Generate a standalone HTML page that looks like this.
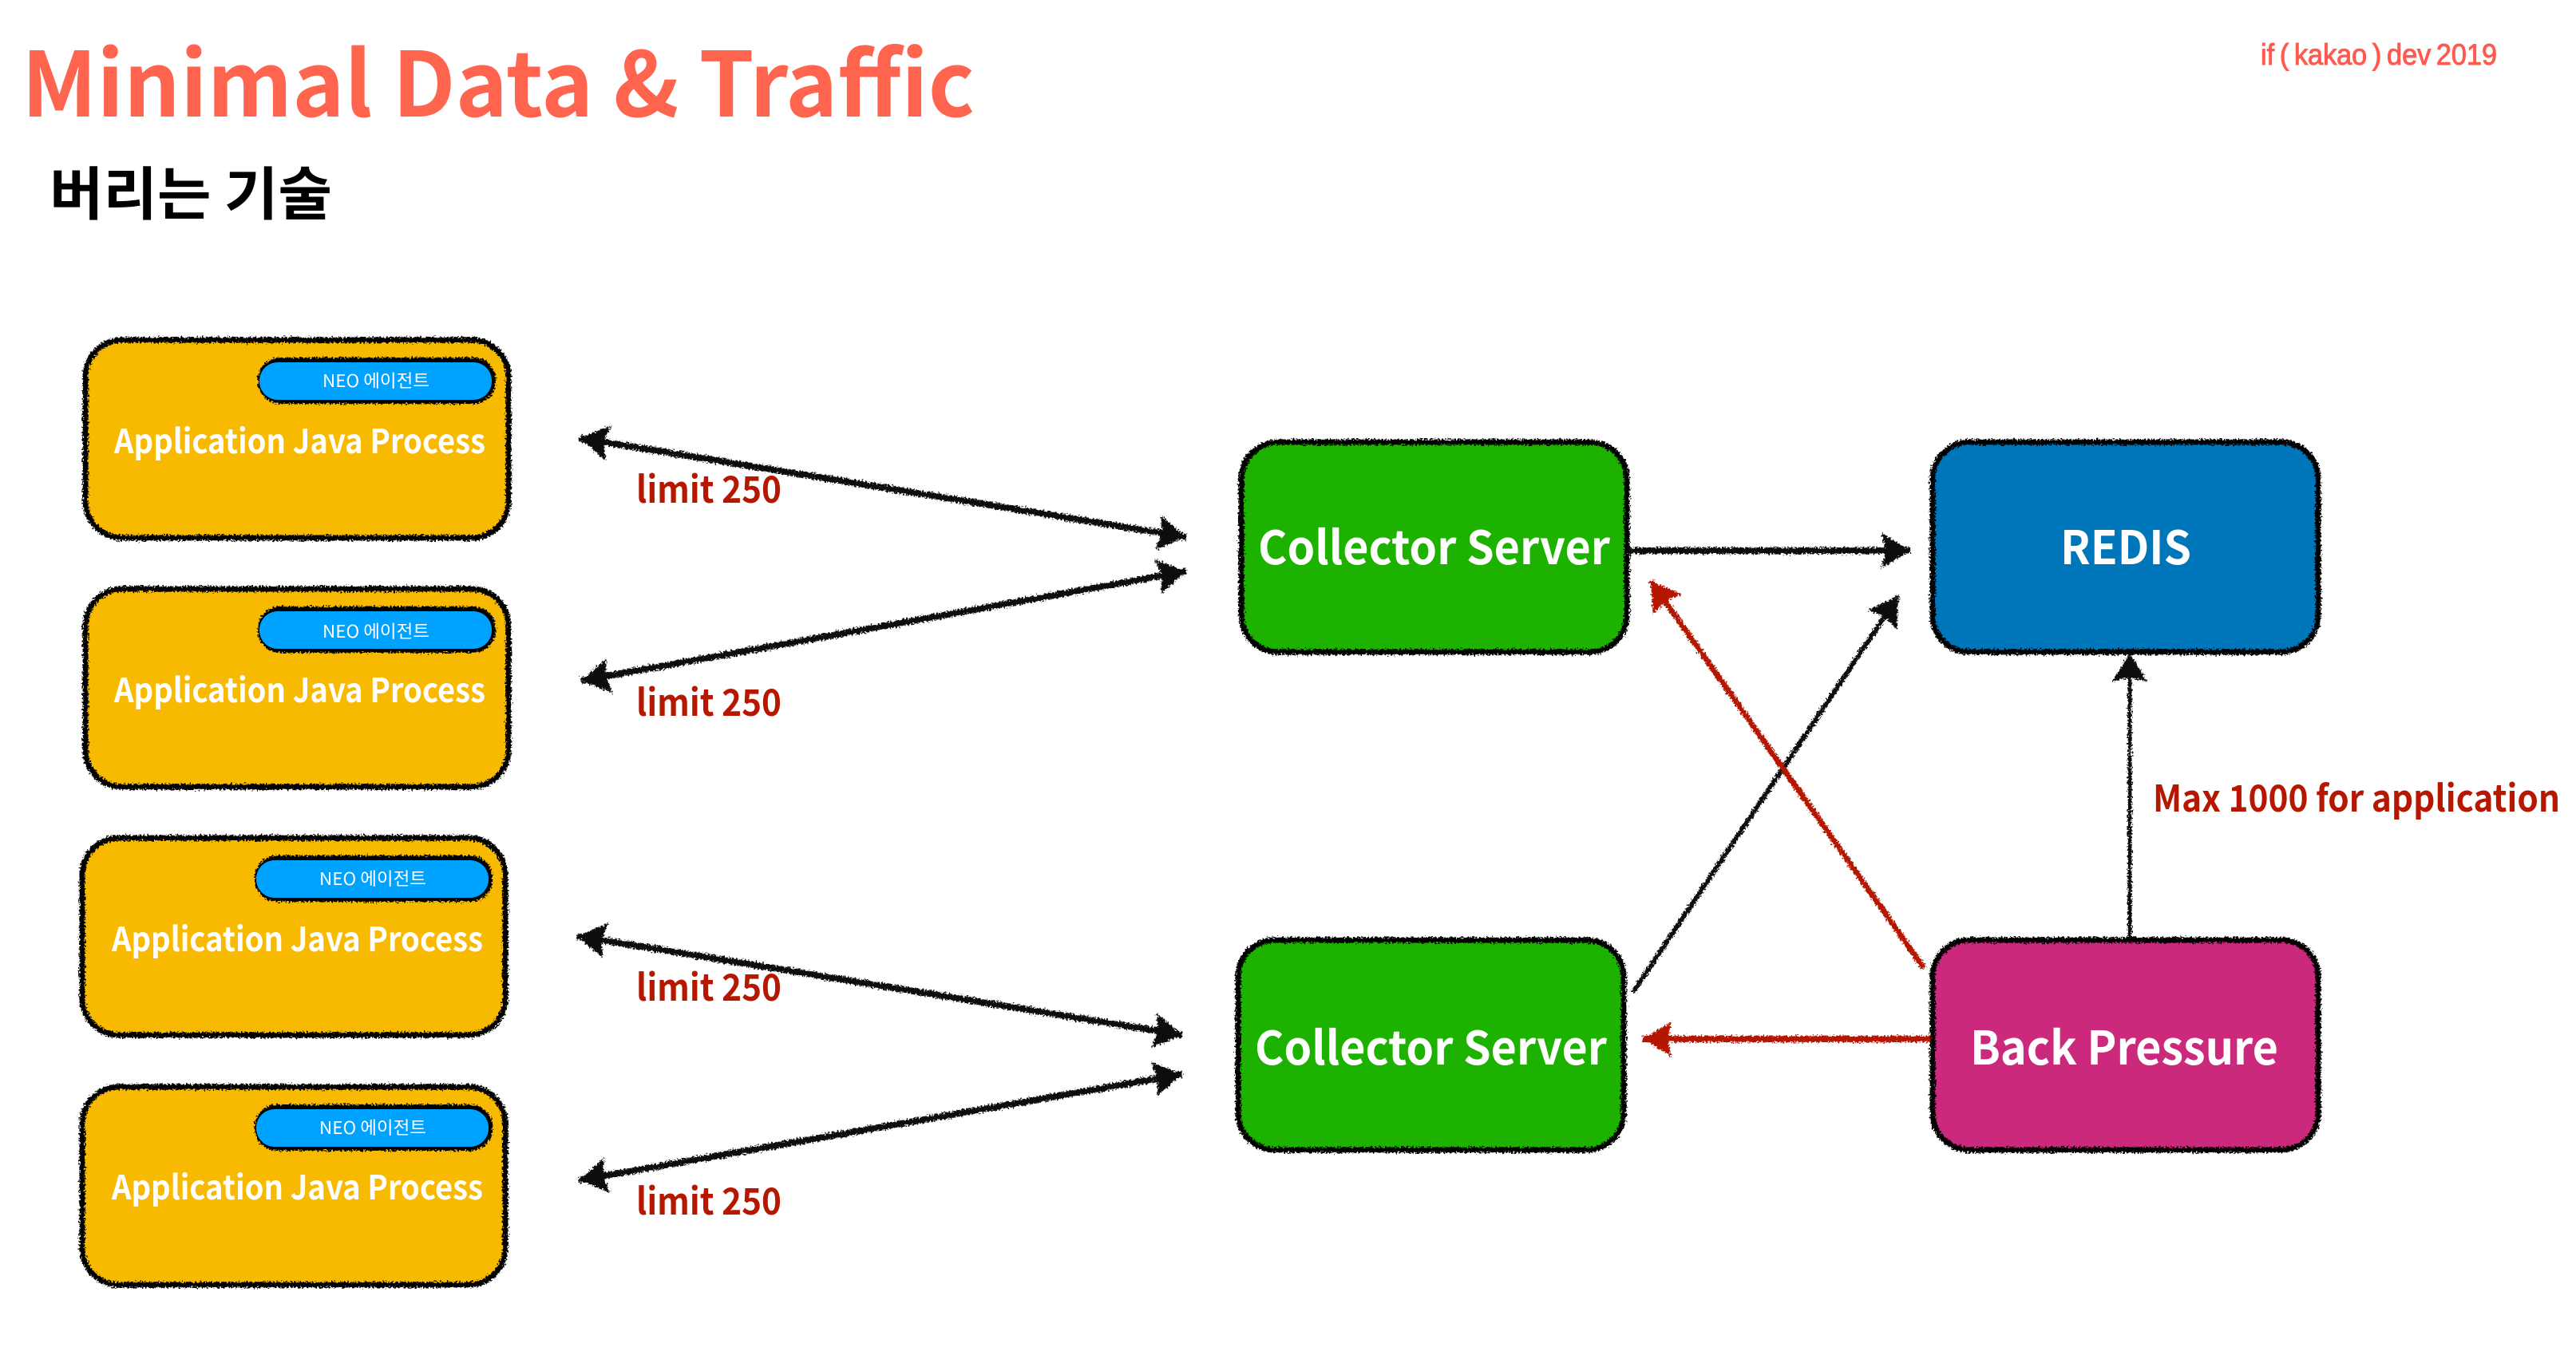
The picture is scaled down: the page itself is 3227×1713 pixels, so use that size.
<!DOCTYPE html>
<html><head><meta charset="utf-8"><style>
html,body{margin:0;padding:0;background:#fff;width:3227px;height:1713px;overflow:hidden}
svg{display:block}
text{font-family:"Liberation Sans","Noto Sans CJK KR",sans-serif}
.n{font-family:"Noto Sans CJK KR","Liberation Sans",sans-serif}
.w{fill:#fff;font-weight:700;font-family:"Noto Sans CJK KR","Liberation Sans",sans-serif}
.r{fill:#b51700;font-weight:700;font-size:46px;font-family:"Noto Sans CJK KR","Liberation Sans",sans-serif}
.neo{fill:#fff;font-size:22px;font-family:"Noto Sans CJK KR","Liberation Sans",sans-serif}
.b{fill:none;stroke:#050505;stroke-width:7}
.k{stroke:#0a0a0a;fill:none}
.rl{stroke:#b51700;fill:none}
</style></head><body>
<svg width="3227" height="1713" viewBox="0 0 3227 1713" xmlns="http://www.w3.org/2000/svg">
<defs>
<filter id="roughL" filterUnits="userSpaceOnUse" x="0" y="0" width="3227" height="1713">
<feTurbulence type="fractalNoise" baseFrequency="0.45" numOctaves="2" seed="9"/>
<feDisplacementMap in="SourceGraphic" scale="8" xChannelSelector="R" yChannelSelector="G"/>
</filter>
<marker id="kh" markerUnits="userSpaceOnUse" markerWidth="46" markerHeight="54" refX="38" refY="25" orient="auto-start-reverse" overflow="visible">
<path d="M38 25L2 3L7 25L2 47Z" fill="#0a0a0a"/>
</marker>
<marker id="rh" markerUnits="userSpaceOnUse" markerWidth="46" markerHeight="54" refX="38" refY="25" orient="auto-start-reverse" overflow="visible">
<path d="M38 25L2 3L7 25L2 47Z" fill="#b51700"/>
</marker>
</defs>

<text class="n" x="27" y="146" font-size="112" font-weight="700" fill="#ff644e" textLength="1194" lengthAdjust="spacingAndGlyphs">Minimal Data &amp; Traffic</text>
<text class="n" x="62" y="269" font-size="72" font-weight="700" fill="#000" textLength="354" lengthAdjust="spacingAndGlyphs">버리는 기술</text>
<text x="2832" y="81" font-size="37" font-weight="400" fill="#ff5a4f" stroke="#ff5a4f" stroke-width="1" style="word-spacing:-3px" textLength="296" lengthAdjust="spacingAndGlyphs">if ( kakao ) dev 2019</text>

<!-- Yellow boxes -->
<rect x="107" y="426" width="530" height="248" rx="46" fill="#f8ba00"/>
<rect x="107" y="738" width="530" height="248" rx="46" fill="#f8ba00"/>
<rect x="103" y="1050" width="530" height="247" rx="46" fill="#f8ba00"/>
<rect x="103" y="1362" width="530" height="248" rx="46" fill="#f8ba00"/>
<g filter="url(#roughL)">
<rect class="b" x="107" y="426" width="530" height="248" rx="46"/>
<rect class="b" x="107" y="738" width="530" height="248" rx="46"/>
<rect class="b" x="103" y="1050" width="530" height="247" rx="46"/>
<rect class="b" x="103" y="1362" width="530" height="248" rx="46"/>
<rect x="323" y="448" width="298" height="58" rx="28" fill="#050505"/>
<rect x="323" y="760" width="298" height="58" rx="28" fill="#050505"/>
<rect x="319" y="1072" width="298" height="58" rx="28" fill="#050505"/>
<rect x="319" y="1384" width="298" height="58" rx="28" fill="#050505"/>
</g>
<rect x="325" y="454" width="291" height="47" rx="23" fill="#00a2ff"/>
<rect x="325" y="766" width="291" height="47" rx="23" fill="#00a2ff"/>
<rect x="321" y="1078" width="291" height="47" rx="23" fill="#00a2ff"/>
<rect x="321" y="1390" width="291" height="47" rx="23" fill="#00a2ff"/>

<text class="neo" x="404" y="485" textLength="134" lengthAdjust="spacingAndGlyphs">NEO 에이전트</text>
<text class="neo" x="404" y="799" textLength="134" lengthAdjust="spacingAndGlyphs">NEO 에이전트</text>
<text class="neo" x="400" y="1109" textLength="134" lengthAdjust="spacingAndGlyphs">NEO 에이전트</text>
<text class="neo" x="400" y="1421" textLength="134" lengthAdjust="spacingAndGlyphs">NEO 에이전트</text>

<text class="w" font-size="42" x="143" y="568" textLength="465" lengthAdjust="spacingAndGlyphs">Application Java Process</text>
<text class="w" font-size="42" x="143" y="880" textLength="465" lengthAdjust="spacingAndGlyphs">Application Java Process</text>
<text class="w" font-size="42" x="140" y="1192" textLength="465" lengthAdjust="spacingAndGlyphs">Application Java Process</text>
<text class="w" font-size="42" x="140" y="1503" textLength="465" lengthAdjust="spacingAndGlyphs">Application Java Process</text>

<!-- Server boxes -->
<rect x="1555" y="554" width="483" height="263" rx="46" fill="#1db100"/>
<rect x="2421" y="554" width="483" height="263" rx="46" fill="#0076ba"/>
<rect x="1551" y="1178" width="483" height="263" rx="46" fill="#1db100"/>
<rect x="2421" y="1178" width="483" height="263" rx="46" fill="#cb297b"/>
<g filter="url(#roughL)">
<rect class="b" x="1555" y="554" width="483" height="263" rx="46"/>
<rect class="b" x="2421" y="554" width="483" height="263" rx="46"/>
<rect class="b" x="1551" y="1178" width="483" height="263" rx="46"/>
<rect class="b" x="2421" y="1178" width="483" height="263" rx="46"/>
</g>

<text class="w" font-size="58" x="1576" y="707" textLength="441" lengthAdjust="spacingAndGlyphs">Collector Server</text>
<text class="w" font-size="58" x="1572" y="1334" textLength="441" lengthAdjust="spacingAndGlyphs">Collector Server</text>
<text class="w" font-size="58" x="2581" y="707" textLength="164" lengthAdjust="spacingAndGlyphs">REDIS</text>
<text class="w" font-size="58" x="2468" y="1334" textLength="386" lengthAdjust="spacingAndGlyphs">Back Pressure</text>

<!-- Arrows -->
<g filter="url(#roughL)">
<line class="k" style="stroke-width:8" x1="726" y1="549" x2="1486" y2="673" marker-start="url(#kh)" marker-end="url(#kh)"/>
<line class="k" style="stroke-width:8" x1="728" y1="853" x2="1486" y2="716" marker-start="url(#kh)" marker-end="url(#kh)"/>
<line class="k" style="stroke-width:8" x1="723" y1="1173" x2="1481" y2="1297" marker-start="url(#kh)" marker-end="url(#kh)"/>
<line class="k" style="stroke-width:8" x1="725" y1="1479" x2="1481" y2="1346" marker-start="url(#kh)" marker-end="url(#kh)"/>
<line class="k" style="stroke-width:8" x1="2040" y1="690" x2="2393" y2="690" marker-end="url(#kh)"/>
<line class="k" style="stroke-width:6" x1="2046" y1="1243" x2="2378" y2="747" marker-end="url(#kh)"/>
<line class="k" style="stroke-width:5" x1="2668" y1="1175" x2="2668" y2="818" marker-end="url(#kh)"/>
<line class="rl" style="stroke-width:7" x1="2410" y1="1213" x2="2068" y2="728" marker-end="url(#rh)"/>
<line class="rl" style="stroke-width:8" x1="2419" y1="1302" x2="2058" y2="1302" marker-end="url(#rh)"/>
</g>

<text class="r" x="797" y="630" textLength="182" lengthAdjust="spacingAndGlyphs">limit 250</text>
<text class="r" x="797" y="897" textLength="182" lengthAdjust="spacingAndGlyphs">limit 250</text>
<text class="r" x="797" y="1254" textLength="182" lengthAdjust="spacingAndGlyphs">limit 250</text>
<text class="r" x="797" y="1522" textLength="182" lengthAdjust="spacingAndGlyphs">limit 250</text>
<text class="r" x="2697" y="1017" textLength="510" lengthAdjust="spacingAndGlyphs">Max 1000 for application</text>
</svg>
</body></html>
